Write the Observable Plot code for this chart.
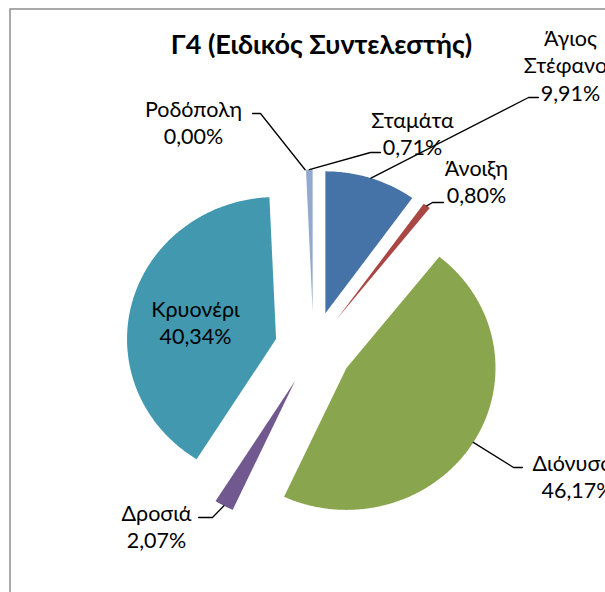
<!DOCTYPE html>
<html><head><meta charset="utf-8">
<script src="https://cdn.jsdelivr.net/npm/d3@7"></script>
<script src="https://cdn.jsdelivr.net/npm/@observablehq/plot@0.6"></script>
<style>
html,body{margin:0;padding:0;overflow:hidden;background:#fff;}
</style></head><body><div id="chart"></div>
<script>
// ---- data ----
const title = "Γ4 (Ειδικός Συντελεστής)";
const names = ["Άγιος Στέφανος","Άνοιξη","Διόνυσος","Δροσιά","Κρυονέρι","Ροδόπολη","Σταμάτα"];
const shares = [9.91, 0.80, 46.17, 2.07, 40.34, 0.00, 0.71];
const colors = ["#4572A7","#AA4643","#89A54E","#71588F","#4198AF","#DB843D","#93A9CF"];

// ---- layout (pixels) ----
const W = 605, H = 592;
const center = [313, 348], rx = 149, ry = 142, explode = 0.26;
const FS = 21.5, LH = 1.29;
const labelPos = {            // [center x, block middle y]
  "Άγιος Στέφανος": [570, 64],
  "Άνοιξη": [476, 180],
  "Διόνυσος": [577, 475],
  "Δροσιά": [156, 525],
  "Κρυονέρι": [195, 321],
  "Ροδόπολη": [193, 121],
  "Σταμάτα": [412, 132]
};
const leaderPts = {           // elbow, end
  "Άγιος Στέφανος": [[528, 97], [538, 97]],
  "Άνοιξη": [[432, 202], [443, 202]],
  "Διόνυσος": [[513, 467], [522, 467]],
  "Δροσιά": [[212, 517], [198, 517]],
  "Ροδόπολη": [[260, 113], [252, 113]],
  "Σταμάτα": [[370, 152], [380, 152]]
};
const lineBreaks = {"Άγιος Στέφανος": "Άγιος\nΣτέφανος"};

// scales: one unit = pie radius
const xDomain = [-center[0] / rx, (W - center[0]) / rx];
const yDomain = [-(H - center[1]) / ry, center[1] / ry];
const sx = Plot.scale({x: {type: "linear", domain: xDomain, range: [0, W]}});
const sy = Plot.scale({y: {type: "linear", domain: yDomain, range: [H, 0]}});
const P = ([px, py]) => ({x: sx.invert(px), y: sy.invert(py)});

const pct = v => v.toFixed(2).replace(".", ",") + "%";
const arcs = d3.pie().sort(null).value(d => d)(shares);

const slices = [];
const leaders = [];
const labels = [];
arcs.forEach((a, i) => {
  const name = names[i];
  const mid = (a.startAngle + a.endAngle) / 2;
  const cx = explode * Math.sin(mid), cy = explode * Math.cos(mid);
  const span = a.endAngle - a.startAngle;
  if (span > 0) {
    slices.push({name, x: cx, y: cy});
    const n = Math.max(2, Math.ceil(span / (Math.PI / 360)));
    for (let k = 0; k <= n; k++) {
      const t = a.startAngle + span * k / n;
      slices.push({name, x: cx + Math.sin(t), y: cy + Math.cos(t)});
    }
  }
  if (leaderPts[name]) {
    leaders.push({name, x: cx + Math.sin(mid), y: cy + Math.cos(mid)});
    leaderPts[name].forEach(p => leaders.push({name, ...P(p)}));
  }
  labels.push({name, text: (lineBreaks[name] || name) + "\n" + pct(shares[i]), ...P(labelPos[name])});
});

const chart = Plot.plot({
  width: W, height: H,
  margin: 0,
  x: {domain: xDomain, axis: null},
  y: {domain: yDomain, axis: null},
  color: {domain: names, range: colors},
  style: {fontFamily: "Lato, 'Open Sans', sans-serif", background: "#fff", overflow: "hidden"},
  marks: [
    Plot.frame({stroke: "#868686", strokeWidth: 1.4, insetLeft: 9.5, insetTop: 8.5, insetRight: -10, insetBottom: -10}),
    Plot.line(slices, {x: "x", y: "y", z: "name", fill: "name", stroke: "none", curve: "linear-closed"}),
    Plot.line(leaders, {x: "x", y: "y", z: "name", stroke: "#000", strokeWidth: 1.3}),
    Plot.text(labels, {x: "x", y: "y", text: "text", fontSize: FS, lineHeight: LH, lineAnchor: "middle", textAnchor: "middle", fill: "#000"}),
    Plot.text([title], {x: sx.invert(321), y: sy.invert(44.5), text: d => d, fontSize: 27, fontWeight: "bold", fill: "#000", lineAnchor: "middle"})
  ]
});
document.getElementById("chart").appendChild(chart);
</script>
</body></html>
